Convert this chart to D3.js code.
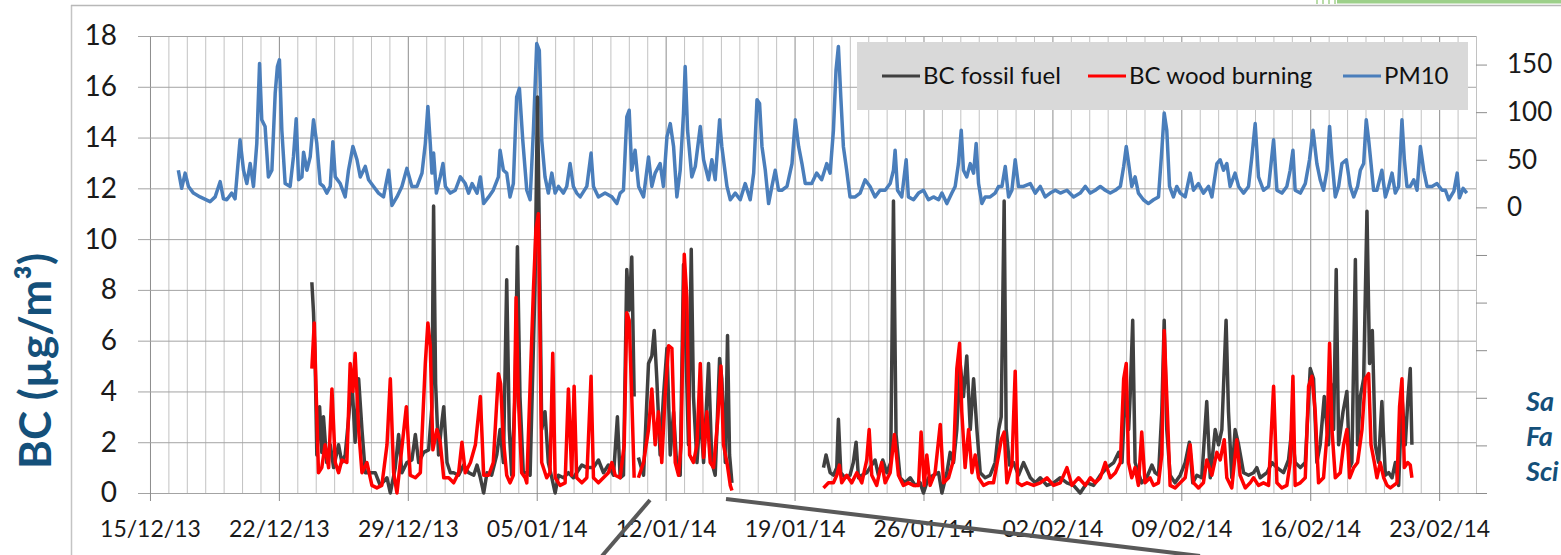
<!DOCTYPE html>
<html><head><meta charset="utf-8">
<script src="https://cdn.jsdelivr.net/npm/d3@7"></script>
<style>
html,body{margin:0;padding:0;background:#fff;overflow:hidden}
svg{display:block}
</style></head><body>
<svg id="chart" width="1561" height="555"></svg>
<script>
// ---------- data (days since 15/12/2013 00:00) ----------
const startDate = new Date(2013, 11, 15);
const labelDays = [0, 7, 14, 21, 28, 35, 42, 49, 56, 63, 70];
const leftTicks = [0, 2, 4, 6, 8, 10, 12, 14, 16, 18];
const rightTicks = [-300, -250, -200, -150, -100, -50, 0, 50, 100, 150];
const seriesNames = ["BC fossil fuel", "BC wood burning", "PM10"];

const pm10Days = [
1.54,1.72,1.91,2.09,2.36,2.72,3.26,3.54,3.81,3.99,
4.17,4.44,4.62,4.89,5.08,5.26,5.44,5.62,5.80,5.95,
6.07,6.25,6.43,6.62,6.80,6.92,7.03,7.16,7.34,7.61,
7.79,7.94,8.07,8.25,8.34,8.52,8.70,8.88,9.06,9.24,
9.42,9.60,9.79,9.93,10.06,10.33,10.60,10.78,11.02,11.24,
11.42,11.69,11.87,12.14,12.41,12.68,12.96,13.14,13.41,13.68,
13.95,14.22,14.50,14.77,14.95,15.09,15.22,15.31,15.40,15.55,
15.76,15.91,16.04,16.31,16.58,16.85,17.12,17.30,17.49,17.76,
17.94,18.12,18.39,
18.64,18.92,19.01,19.19,19.37,19.55,19.73,19.91,20.06,20.24,
20.46,20.64,20.82,21.00,21.14,21.27,21.45,21.63,21.82,22.00,
22.18,22.45,22.63,22.81,22.99,23.17,23.36,23.72,23.95,24.08,
24.35,24.71,25.08,25.35,25.53,25.71,25.89,26.02,26.16,26.34,
26.53,26.80,27.07,27.25,27.43,27.70,27.88,28.07,28.25,28.43,
28.61,28.79,28.97,29.06,29.19,29.42,29.61,29.88,30.06,30.33,
30.51,30.69,30.93,31.05,31.33,31.51,31.78,32.05,32.32,32.59,
32.78,32.96,33.10,33.23,33.41,33.59,33.77,33.95,34.13,34.31,
34.59,34.86,35.04,35.22,35.40,35.58,
35.93,36.20,36.47,36.75,36.93,37.11,37.25,37.38,37.51,37.65,
37.83,38.01,38.29,38.56,38.83,39.10,39.37,39.64,39.92,40.19,
40.37,40.46,40.59,40.82,41.06,41.18,41.46,41.73,42.00,42.27,
42.54,42.82,43.00,43.27,43.54,43.72,43.90,44.05,44.17,44.35,
44.54,44.72,44.86,44.99,45.17,45.35,45.62,45.89,46.08,46.26,
46.44,46.62,46.80,46.98,47.16,47.43,47.80,48.07,48.34,48.61,
48.88,49.16,49.43,49.79,50.15,50.51,50.79,51.06,51.33,51.60,
51.87,52.14,52.42,52.69,52.87,53.01,53.14,
53.31,53.49,53.67,53.94,54.21,54.49,54.76,54.94,55.07,55.21,
55.36,55.57,55.75,55.94,56.21,56.48,56.66,56.93,57.20,57.48,
57.66,57.93,58.11,58.29,58.47,58.65,58.92,59.11,59.38,59.65,
59.83,60.01,60.19,60.46,60.74,61.01,61.19,61.46,61.73,61.91,
62.06,62.18,62.46,62.73,62.96,63.15,63.36,63.54,63.72,63.91,
64.05,64.18,64.36,64.54,64.72,64.96,65.17,65.36,65.57,65.72,
65.90,66.04,66.17,66.30,66.44,66.62,66.89,67.08,67.26,67.44,
67.62,67.80,67.98,68.11,68.25,68.43,68.62,68.80,68.98,69.16,
69.34,69.61,69.88,70.16,70.34,70.52,70.80,70.98,71.10,71.30,
71.50];
const pm10Values = [
39,20,36,22,15,11,6,11,27,9,
8,15,9,71,39,25,46,22,67,151,
92,85,32,39,120,148,155,81,25,22,
53,93,29,32,58,39,53,92,67,25,
22,15,22,69,32,25,11,39,64,50,
32,43,29,22,15,11,39,2,11,22,
41,22,22,36,67,106,67,36,57,15,
32,46,22,15,18,32,25,15,25,15,
32,4,11,
18,32,60,39,36,11,25,116,125,71,
18,8,81,172,165,71,32,15,36,15,
22,15,22,46,22,15,11,22,57,22,
11,15,11,4,15,18,95,102,39,60,
22,11,53,22,36,46,22,74,88,64,
11,39,99,148,81,32,43,85,50,29,
50,29,92,64,22,8,15,8,25,8,
36,113,109,64,39,4,22,39,18,18,
22,46,92,64,46,25,
25,36,29,46,36,81,144,169,116,64,
39,11,11,15,29,22,11,18,18,25,
39,60,18,11,50,11,8,15,18,8,
11,8,15,4,15,22,46,81,39,32,
46,36,67,25,4,11,11,15,22,22,
43,11,18,50,22,22,25,15,22,11,
15,18,15,18,11,15,22,15,18,22,
18,15,18,22,43,64,46,
22,32,15,8,4,8,11,60,99,81,
22,11,22,15,11,36,18,25,15,22,
11,46,50,39,46,22,36,22,15,22,
53,88,32,18,22,71,18,15,22,39,
60,18,15,25,50,81,46,29,18,39,
85,50,11,22,46,50,22,11,22,39,
46,92,71,46,18,18,39,11,22,36,
15,22,92,50,22,22,29,18,64,39,
22,22,25,18,18,8,17,36,10,20,
15];

const fossilDays = [
8.79,8.88,8.97,9.06,9.21,9.33,9.42,9.60,9.79,9.97,
10.24,10.42,10.60,10.78,10.96,11.14,11.33,11.51,11.69,11.96,
12.23,12.50,12.87,13.05,13.32,13.50,13.68,13.95,14.22,14.41,
14.59,14.86,15.13,15.31,15.40,15.51,15.67,15.85,15.95,16.13,
16.31,16.49,16.76,17.03,17.30,17.58,17.76,17.94,18.12,18.30,
18.55,18.83,19.01,19.19,19.37,19.51,19.64,19.82,19.95,20.09,
20.27,20.55,20.64,20.91,21.04,21.14,21.27,21.45,21.63,21.82,
22.00,22.18,22.45,22.72,22.99,23.17,23.45,23.72,24.08,24.35,
24.62,24.89,25.17,25.38,25.53,25.71,25.89,26.02,26.16,26.29,
26.40,26.52,26.80,27.07,27.25,27.38,27.52,27.70,27.88,28.07,
28.25,28.43,28.61,28.79,28.97,29.12,29.24,29.39,29.51,29.70,
29.88,30.06,30.33,30.51,30.69,30.93,31.05,31.24,31.36,31.47,
31.60,34.00,
36.57,36.71,36.93,37.11,37.29,37.38,37.51,37.74,38.01,38.19,
38.34,38.47,38.65,38.92,39.19,39.37,39.55,39.79,40.01,40.22,
40.37,40.51,40.73,41.00,41.28,41.55,41.82,42.00,42.27,42.54,
42.82,43.00,43.27,43.45,43.63,43.81,43.99,44.17,44.35,44.54,
44.72,44.90,45.08,45.35,45.62,45.89,46.08,46.22,46.38,46.49,
46.67,46.89,47.16,47.43,47.80,48.07,48.34,48.70,49.06,49.43,
49.79,50.15,50.51,50.88,51.24,51.60,51.96,52.33,52.60,52.78,
52.96,53.14,
53.22,53.36,53.49,53.67,53.85,54.12,54.40,54.58,54.76,54.94,
55.07,55.21,55.39,55.66,55.94,56.21,56.44,56.62,56.84,57.11,
57.38,57.57,57.84,58.02,58.20,58.43,58.56,58.74,58.92,59.11,
59.38,59.65,59.92,60.10,60.28,60.65,60.92,61.19,61.55,61.82,
62.00,62.18,62.46,62.73,63.00,63.18,63.36,63.54,63.76,63.99,
64.12,64.27,64.41,64.54,64.78,64.99,65.14,65.26,65.45,65.57,
65.72,65.90,66.08,66.22,66.37,66.53,66.71,66.89,67.08,67.26,
67.44,67.62,67.80,67.98,68.16,68.31,68.43,68.52];
const fossilValues = [
8.3,7.1,5.1,1.5,3.4,1.6,3.0,1.2,1.9,1.0,
1.9,1.2,1.5,2.9,4.5,2.0,4.5,2.5,0.8,0.8,
0.8,0.3,0.6,0.0,1.0,2.3,0.8,1.2,1.3,2.3,
1.2,1.6,1.7,3.4,11.3,4.3,1.5,2.8,3.4,1.2,
0.8,0.8,0.7,1.1,0.8,0.7,1.1,0.6,0.0,0.8,
0.7,1.5,2.5,1.2,8.4,2.5,0.7,3.8,9.7,3.8,
0.8,0.8,0.7,8.3,15.6,10.4,2.5,3.2,1.2,0.6,
0.0,0.7,0.6,0.8,0.6,0.8,1.1,1.0,1.0,1.3,
0.8,1.1,0.7,3.0,0.6,0.7,8.8,7.2,9.3,3.8,
null,1.4,0.7,5.1,5.4,6.4,4.5,1.5,3.8,5.7,
1.5,3.2,1.0,0.7,9.0,5.1,1.9,9.6,3.8,1.2,
3.2,1.2,5.1,1.2,0.7,5.3,4.5,1.2,6.2,1.5,
0.4,null,
1.0,1.5,0.8,0.7,1.0,2.9,0.8,0.6,0.7,1.2,
2.0,0.6,0.7,0.8,1.1,1.3,0.7,1.3,0.8,1.2,
11.5,2.3,0.6,0.4,0.6,0.3,0.4,0.0,0.6,0.7,
0.8,0.0,0.8,1.6,1.2,2.5,5.1,3.8,5.4,2.5,
4.5,2.5,0.8,0.6,0.7,1.2,2.5,3.0,11.5,2.5,
1.1,1.2,0.7,1.2,0.6,0.4,0.6,0.3,0.4,0.6,
0.4,0.3,0.0,0.4,0.3,0.7,1.0,1.2,1.6,1.2,
4.1,2.5,
3.8,6.8,1.2,0.8,0.4,0.6,1.1,0.8,0.7,3.2,
6.8,2.5,0.7,0.4,0.7,1.2,2.0,0.4,0.7,0.6,
3.6,0.6,2.5,1.9,2.5,6.8,3.2,0.6,2.5,1.9,
0.8,0.7,0.8,1.0,0.6,0.8,1.2,1.0,0.8,1.3,
2.5,1.2,1.0,1.2,4.9,4.5,1.2,1.9,3.8,1.9,
4.3,2.5,8.8,1.9,3.2,4.0,1.0,1.2,9.2,1.9,
3.8,4.5,11.1,5.1,6.4,1.9,1.2,3.6,0.7,0.8,
0.6,1.2,0.3,3.8,1.9,3.8,4.9,1.9];

const woodDays = [
8.79,8.92,9.03,9.15,9.33,9.51,9.70,9.88,10.06,10.24,
10.42,10.69,10.87,11.02,11.14,11.33,11.51,11.78,12.05,12.32,
12.59,12.87,13.05,13.23,13.41,13.59,13.92,14.13,14.41,14.68,
14.95,15.09,15.22,15.36,15.58,15.76,15.95,16.22,16.49,16.76,
16.94,17.12,17.40,17.67,17.94,18.12,18.39,
18.64,18.92,19.04,19.19,19.37,19.55,19.73,19.88,20.00,20.18,
20.37,20.46,20.82,20.96,21.09,21.27,21.54,21.72,21.87,22.00,
22.27,22.54,22.72,22.90,23.03,23.17,23.45,23.72,23.95,24.08,
24.35,24.62,24.89,25.08,25.26,25.53,25.75,25.89,26.02,26.16,
26.29,26.40,26.52,26.80,27.07,27.25,27.43,27.61,27.79,27.97,
28.16,28.34,28.52,28.70,28.84,29.01,29.15,29.30,29.51,29.70,
29.88,30.06,30.24,30.42,30.60,30.82,31.00,31.14,31.33,31.51,
31.60,34.00,
36.57,36.84,37.11,37.29,37.43,37.56,37.83,38.10,38.38,38.65,
38.92,39.05,39.19,39.46,39.73,39.92,40.19,40.42,40.64,40.91,
41.18,41.46,41.73,41.87,42.04,42.18,42.36,42.63,42.91,43.09,
43.36,43.63,43.81,43.96,44.08,44.26,44.45,44.63,44.81,44.99,
45.26,45.53,45.80,46.08,46.22,46.38,46.53,46.80,46.98,47.11,
47.34,47.62,47.98,48.34,48.70,49.06,49.43,49.79,50.06,50.42,
50.79,51.06,51.33,51.60,51.87,52.14,52.42,52.69,52.87,53.01,
53.13,53.31,53.49,53.67,53.85,54.03,54.30,54.49,54.76,54.94,
55.07,55.21,55.39,55.66,55.94,56.21,56.48,56.66,56.93,57.20,
57.38,57.66,57.93,58.11,58.33,58.47,58.74,59.01,59.19,59.47,
59.74,59.92,60.19,60.46,60.74,61.01,61.19,61.46,61.73,61.91,
62.06,62.18,62.46,62.73,62.91,63.09,63.27,63.45,63.72,63.91,
64.05,64.18,64.36,64.63,64.81,64.99,65.14,65.36,65.57,65.81,
65.99,66.17,66.30,66.48,66.62,66.80,66.99,67.17,67.35,67.53,
67.71,67.85,67.98,68.11,68.29,68.43,68.52];
const woodValues = [
4.9,6.7,3.8,0.8,1.0,1.9,1.0,4.1,1.2,0.8,
1.3,1.2,5.1,4.0,5.5,2.5,0.8,1.2,0.3,0.2,
0.3,1.9,4.5,0.8,0.0,1.2,3.4,0.7,0.6,0.8,
5.1,6.7,5.8,1.7,2.5,2.0,0.6,0.6,0.4,0.8,
2.0,0.8,1.2,1.9,3.8,0.7,0.7,
1.2,4.7,4.3,2.1,0.7,0.4,0.7,7.7,3.8,0.8,
0.6,0.4,8.0,10.4,11.0,1.2,0.6,0.8,5.5,0.6,
0.3,0.4,4.1,0.7,4.2,0.6,0.4,0.6,4.6,0.6,
0.4,0.6,0.8,1.2,0.7,0.6,1.9,7.1,6.8,3.8,
0.6,null,0.6,1.2,2.5,4.1,1.9,3.2,1.2,3.8,
5.8,5.7,1.2,0.7,1.9,9.4,7.7,1.5,1.2,1.9,
5.1,1.4,3.2,1.2,1.0,2.8,5.0,1.9,1.2,0.3,
0.1,null,
0.2,0.4,0.4,0.7,1.1,0.4,0.7,0.4,0.8,0.4,
1.3,2.5,0.7,0.3,1.2,0.4,0.8,2.3,0.7,0.3,
0.4,0.3,0.3,2.4,0.3,1.5,0.3,0.8,2.7,0.4,
0.6,1.3,4.9,5.9,3.2,1.0,2.5,0.8,1.5,0.6,
0.3,0.4,0.4,1.5,2.1,2.4,0.4,1.1,4.8,0.4,
0.3,0.4,0.3,0.4,0.6,0.3,0.4,1.0,0.3,0.6,
0.3,0.6,0.4,0.6,1.2,0.6,0.8,1.2,4.5,5.1,
1.2,0.6,1.0,0.3,2.4,0.4,0.6,0.3,0.4,1.5,
6.4,3.8,0.3,0.2,0.4,0.6,1.9,0.4,0.2,0.4,
1.3,0.7,1.6,1.3,2.1,0.6,0.2,2.1,0.7,0.2,
0.4,0.6,0.3,0.4,0.3,4.2,0.4,0.2,0.3,1.2,
4.6,0.3,0.4,0.6,4.2,4.6,3.2,0.4,0.6,2.3,
5.9,2.5,0.6,0.8,1.9,2.5,0.6,1.0,1.2,2.5,
4.5,4.7,1.9,1.2,0.6,1.2,0.6,0.3,0.2,0.3,
0.4,3.4,4.5,1.0,1.2,1.1,0.6];

// ---------- scales ----------
const toDate = d => new Date(startDate.getTime() + d * 864e5);
const x = d3.scaleTime().domain([toDate(-0.65), toDate(72)]).range([138, 1476]);
const yL = d3.scaleLinear().domain([0, 18]).range([493, 36]);
const yR = d3.scaleLinear().domain([-300, 180]).range([493, 36]);
const FONT = "Lato, 'Open Sans', sans-serif";

const svg = d3.select("#chart");
svg.append("rect").attr("width", 1561).attr("height", 555).attr("fill", "#fff");

// slide frame decorations
svg.append("line").attr("x1", 71.5).attr("x2", 71.5).attr("y1", 5).attr("y2", 555).attr("stroke", "#c4c4c4").attr("stroke-width", 1.5);
svg.append("line").attr("x1", 71).attr("x2", 1561).attr("y1", 5.5).attr("y2", 5.5).attr("stroke", "#b8b8b8").attr("stroke-width", 1.5);
svg.append("rect").attr("x", 1337).attr("y", 0).attr("width", 224).attr("height", 3.5).attr("fill", "#9dd08a");
[1316, 1322, 1328, 1334].forEach(px => svg.append("rect").attr("x", px).attr("y", 0).attr("width", 2).attr("height", 4).attr("fill", "#b9dca8"));

// vertical day gridlines
const allDays = d3.range(0, 73).map(toDate);
const gx = svg.append("g").attr("transform", "translate(0,493)")
  .call(d3.axisBottom(x).tickValues(allDays).tickSize(-457).tickFormat(""));
gx.select(".domain").remove();
gx.selectAll(".tick line").attr("stroke", (d, i) => (i % 7 === 0 && i <= 70) ? "#8c8c8c" : "#c2c2c2");

// horizontal gridlines + left labels
const gy = svg.append("g").attr("transform", "translate(138,0)")
  .call(d3.axisLeft(yL).tickValues(leftTicks).tickSizeInner(-1338).tickSizeOuter(0).tickPadding(21));
gy.select(".domain").remove();
gy.selectAll(".tick line").attr("stroke", "#a3a3a3");
gy.selectAll(".tick text").attr("font-family", FONT).attr("font-size", 28).attr("fill", "#1a1a1a");

// bottom date axis
const gb = svg.append("g").attr("transform", "translate(0,493)")
  .call(d3.axisBottom(x).tickValues(labelDays.map(toDate)).tickSize(8).tickFormat(d3.timeFormat("%d/%m/%y")));
gb.select(".domain").remove();
gb.selectAll(".tick line").attr("stroke", "#8c8c8c");
gb.selectAll(".tick text").attr("y", 44).attr("dy", null)
  .attr("font-family", FONT).attr("font-size", 23).attr("fill", "#1a1a1a");

// right secondary axis
const gr = svg.append("g").attr("transform", "translate(1476,0)")
  .call(d3.axisRight(yR).tickValues(rightTicks).tickSizeInner(11).tickSizeOuter(0).tickPadding(20)
    .tickFormat(d => d >= 0 ? d : ""));
gr.select(".domain").remove();
gr.selectAll(".tick line").attr("stroke", "#8c8c8c");
gr.selectAll(".tick text").attr("font-family", FONT).attr("font-size", 26).attr("fill", "#1a1a1a");

// ---------- series ----------
const pm10 = d3.zip(pm10Days, pm10Values);
const fossil = d3.zip(fossilDays, fossilValues);
const wood = d3.zip(woodDays, woodValues);

const lineL = d3.line().defined(d => d[1] != null).x(d => x(toDate(d[0]))).y(d => yL(d[1]));
const lineR = d3.line().defined(d => d[1] != null).x(d => x(toDate(d[0]))).y(d => yR(d[1]));

const colors = ["#404040", "#ff0000", "#4a7ebb"];
svg.append("path").datum(pm10).attr("d", lineR).attr("fill", "none").attr("stroke", colors[2]).attr("stroke-width", 3.5).attr("stroke-linejoin", "round");
svg.append("path").datum(fossil).attr("d", lineL).attr("fill", "none").attr("stroke", colors[0]).attr("stroke-width", 3.5).attr("stroke-linejoin", "round");
svg.append("path").datum(wood).attr("d", lineL).attr("fill", "none").attr("stroke", colors[1]).attr("stroke-width", 3.5).attr("stroke-linejoin", "round");

// ---------- legend ----------
const lg = svg.append("g");
lg.append("rect").attr("x", 857).attr("y", 42).attr("width", 611).attr("height", 68).attr("fill", "#d9d9d9");
const legendX = [882, 1088, 1343];
seriesNames.forEach((name, i) => {
  lg.append("line").attr("x1", legendX[i]).attr("x2", legendX[i] + 38).attr("y1", 76).attr("y2", 76)
    .attr("stroke", colors[i]).attr("stroke-width", 3);
  lg.append("text").attr("x", legendX[i] + 41).attr("y", 76).attr("dy", "0.35em")
    .attr("font-family", FONT).attr("font-size", 24).attr("fill", "#111").text(name);
});

// ---------- titles / annotations ----------
svg.append("text").attr("transform", "translate(51,361) rotate(-90)").attr("text-anchor", "middle")
  .attr("font-family", FONT).attr("font-weight", "bold").attr("font-size", 44).attr("fill", "#14507a")
  .text("BC (µg/m³)");

[["Sa", 411], ["Fa", 446], ["Sci", 481]].forEach(([t, yy]) =>
  svg.append("text").attr("x", 1526).attr("y", yy).attr("font-family", FONT).attr("font-style", "italic")
    .attr("font-weight", "bold").attr("font-size", 27).attr("fill", "#14507a").text(t));

svg.append("line").attr("x1", 650).attr("y1", 500).attr("x2", 602).attr("y2", 556).attr("stroke", "#595959").attr("stroke-width", 4);
svg.append("line").attr("x1", 726).attr("y1", 499).attr("x2", 1200).attr("y2", 556).attr("stroke", "#595959").attr("stroke-width", 4);
</script>
</body></html>
